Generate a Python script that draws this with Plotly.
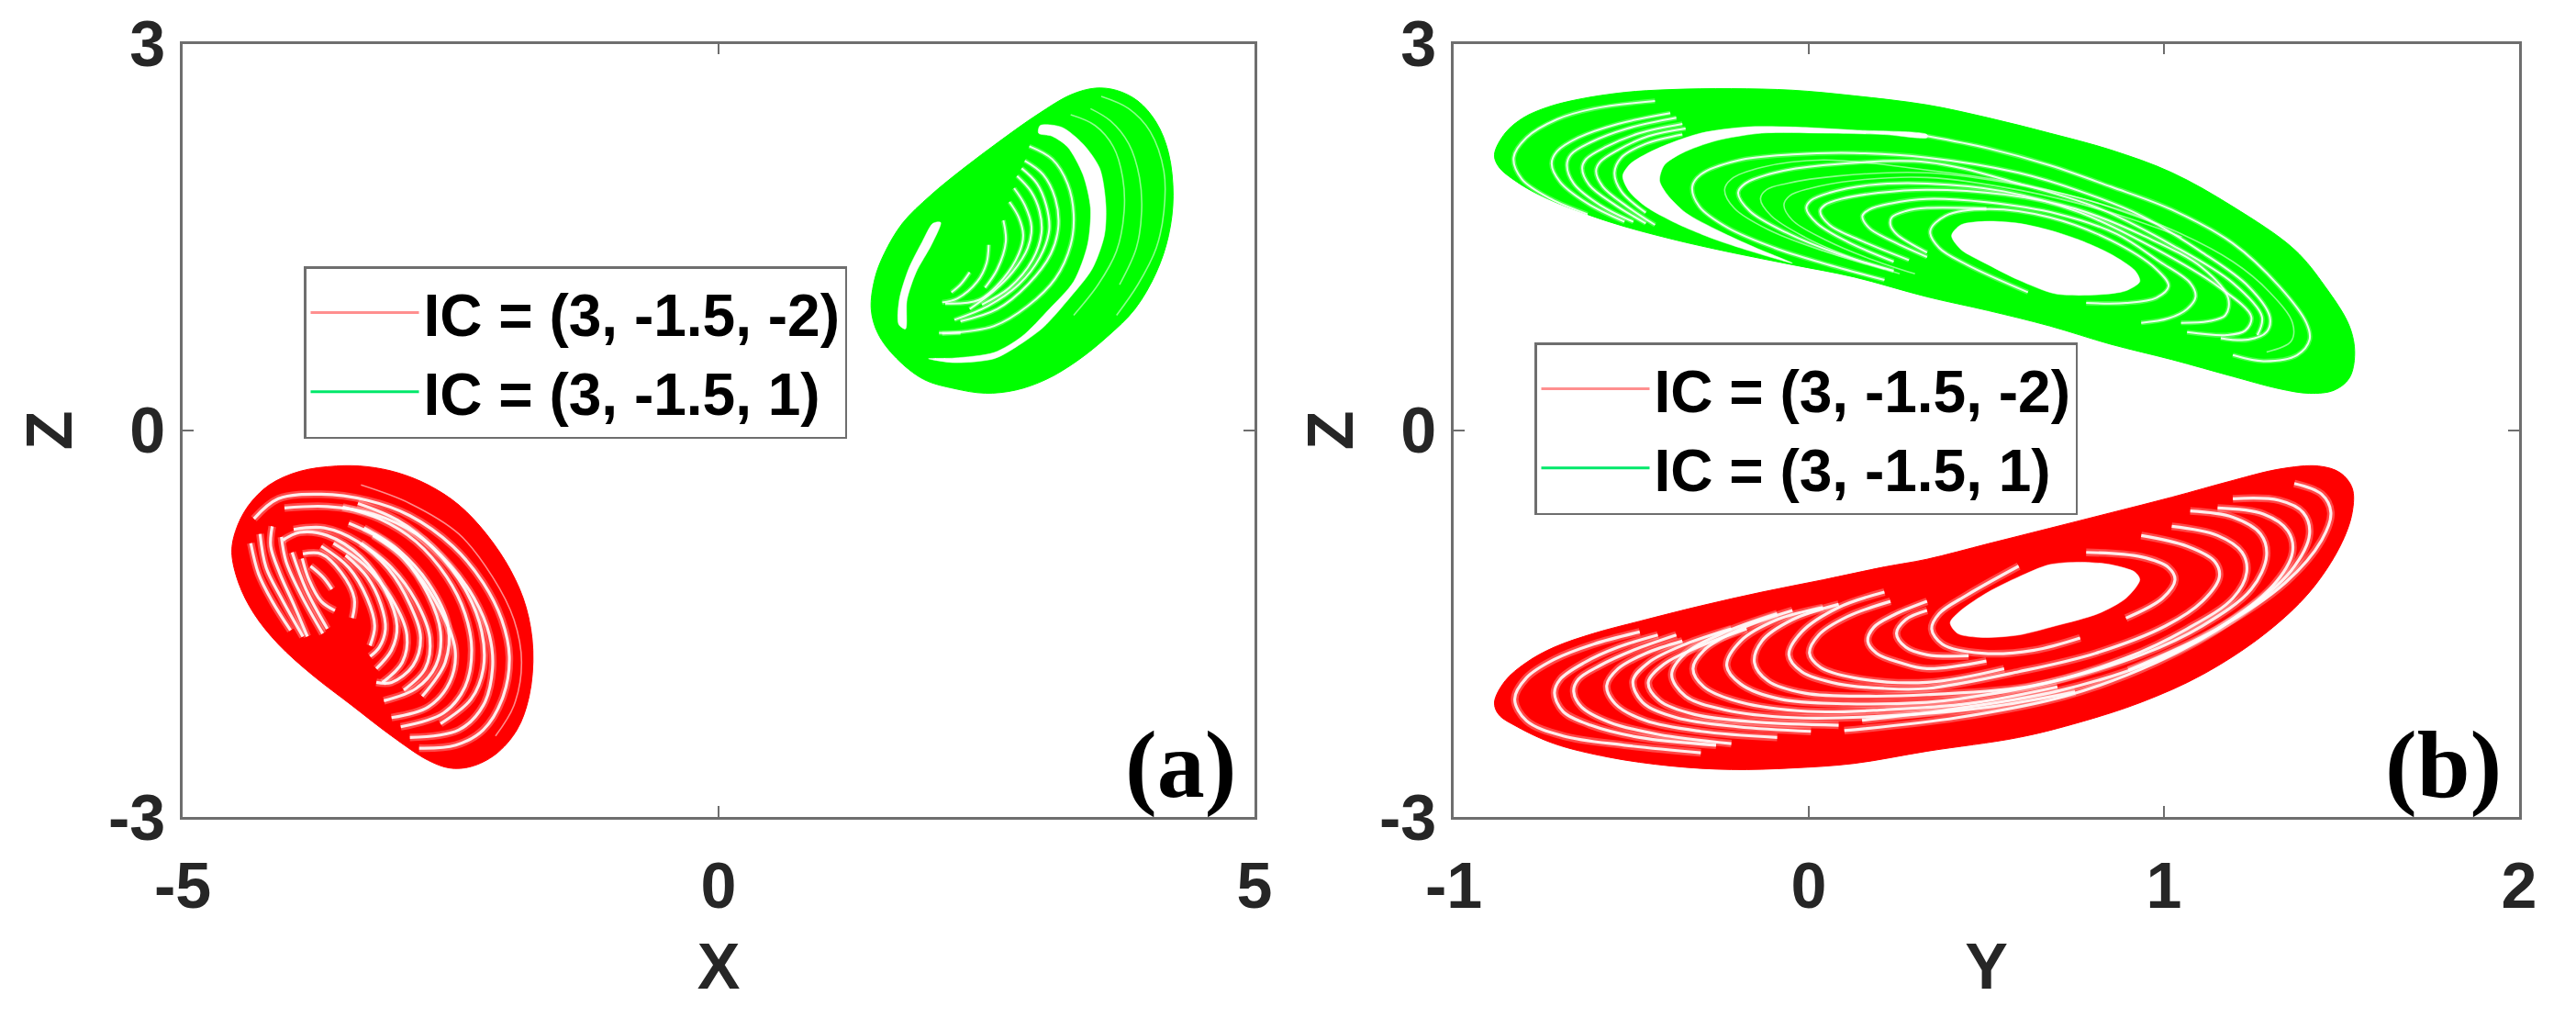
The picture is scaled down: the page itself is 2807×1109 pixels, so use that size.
import plotly.graph_objects as go

RED = "#ff0000"
GREEN = "#00ff00"
INK = "#262626"
FRAME = "#6e6e6e"
LEGEND_LABELS = ["IC = (3, -1.5, -2)", "IC = (3, -1.5, 1)"]
X_TICKS = [-5, 0, 5]
Y_TICKS = [-1, 0, 1, 2]
Z_TICKS = [-3, 0, 3]

# ---------- panel (a): X-Z ----------
green_a_outline = [(1.424,.941),(1.458,1.178),(1.544,1.368),(1.715,1.606),(1.972,1.819),(2.286,2.033),(2.628,2.247),(2.971,2.448),(3.285,2.603),(3.513,2.655),(3.713,2.638),(3.912,2.555),(4.084,2.389),(4.198,2.152),(4.241,1.819),(4.198,1.511),(4.084,1.226),(3.884,.941),(3.627,.727),(3.342,.537),(3.056,.395),(2.771,.312),(2.486,.288),(2.2,.324),(1.915,.395),(1.658,.561),(1.487,.751)]
green_a_holes = [
 [(3.0,2.365),(3.199,2.353),(3.399,2.223),(3.556,2.033),(3.613,1.748),(3.599,1.511),(3.484,1.25),(3.285,1.036),(3.028,.798),(2.771,.644),(2.571,.556),(2.2,.525),(1.958,.556),(2.2,.561),(2.571,.604),(2.828,.727),(3.085,.941),(3.313,1.155),(3.442,1.439),(3.47,1.724),(3.399,1.985),(3.256,2.199),(3.113,2.282),(2.985,2.306)],
 [(2.072,1.613),(1.986,1.439),(1.843,1.226),(1.758,1.012),(1.744,.787),(1.681,.822),(1.686,1.012),(1.772,1.25),(1.9,1.463),(2.0,1.606)],
]
green_a_faint = [
 [(3.57,2.591),(3.827,2.496),(4.027,2.318),(4.155,2.009),(4.155,1.701),(4.084,1.416),(3.912,1.131),(3.713,.893)],
 [(3.47,2.496),(3.656,2.401),(3.827,2.223),(3.927,1.962),(3.947,1.701),(3.898,1.416),(3.741,1.131)],
 [(3.285,2.448),(3.513,2.365),(3.684,2.199),(3.77,1.962),(3.784,1.701),(3.713,1.392),(3.541,1.131),(3.313,.893)],
]
green_a_gaps = [
 [(2.343,1.226),(2.257,1.131),(2.172,1.071)],
 [(2.899,2.204),(3.113,2.104),(3.256,1.914),(3.313,1.677),(3.285,1.439),(3.142,1.178),(2.885,.965),(2.571,.81),(2.086,.751)],
 [(2.857,2.092),(3.028,1.985),(3.142,1.796),(3.17,1.582),(3.099,1.368),(2.885,1.131),(2.6,.941),(2.257,.846)],
 [(2.828,2.033),(2.971,1.914),(3.056,1.748),(3.085,1.558),(2.999,1.344),(2.8,1.131),(2.514,.965),(2.2,.858)],
 [(2.785,1.974),(2.914,1.855),(2.994,1.701),(3.013,1.534),(2.928,1.321),(2.714,1.107),(2.457,.976)],
 [(2.757,1.879),(2.857,1.748),(2.919,1.582),(2.885,1.416),(2.742,1.226),(2.571,1.083),(2.343,.941)],
 [(2.714,1.772),(2.8,1.653),(2.842,1.511),(2.8,1.368),(2.657,1.178),(2.428,1.012),(2.115,.984)],
 [(2.52,1.439),(2.5,1.297),(2.414,1.155),(2.229,1.024),(2.086,.993)],
 [(2.657,1.629),(2.68,1.463),(2.6,1.25),(2.486,1.107)],
 [(2.057,.756),(2.257,.756)],
]
red_a_outline = [(-4.541,-.947),(-4.506,-.781),(-4.392,-.591),(-4.192,-.424),(-3.907,-.318),(-3.565,-.277),(-3.279,-.282),(-2.994,-.329),(-2.708,-.424),(-2.423,-.579),(-2.166,-.804),(-1.938,-1.089),(-1.795,-1.374),(-1.732,-1.706),(-1.767,-2.063),(-1.881,-2.324),(-2.081,-2.514),(-2.309,-2.609),(-2.509,-2.62),(-2.708,-2.561),(-3.051,-2.371),(-3.422,-2.134),(-3.793,-1.896),(-4.107,-1.659),(-4.335,-1.422),(-4.478,-1.184)]
red_a_holes = []
red_a_faint = [
 [(-3.336,-.424),(-2.88,-.567),(-2.423,-.804),(-2.109,-1.137),(-1.909,-1.469),(-1.838,-1.801),(-1.909,-2.134),(-2.081,-2.371)],
]
red_a_gaps = [
 [(-3.807,-1.054),(-3.693,-1.137),(-3.607,-1.232)],
 [(-4.335,-.686),(-4.107,-.531),(-3.707,-.496),(-3.279,-.543),(-2.88,-.662),(-2.48,-.899),(-2.195,-1.184),(-2.023,-1.469),(-1.952,-1.754),(-2.009,-2.063),(-2.195,-2.324),(-2.452,-2.443),(-2.794,-2.466)],
 [(-4.05,-.602),(-3.65,-.591),(-3.222,-.65),(-2.822,-.804),(-2.509,-1.042),(-2.28,-1.303),(-2.138,-1.588),(-2.109,-1.849),(-2.195,-2.134),(-2.423,-2.324),(-2.88,-2.383)],
 [(-3.507,-.595),(-3.165,-.686),(-2.822,-.864),(-2.537,-1.137),(-2.366,-1.422),(-2.303,-1.706),(-2.366,-1.991),(-2.566,-2.193),(-2.965,-2.3)],
 [(-3.45,-.721),(-3.108,-.864),(-2.822,-1.101),(-2.594,-1.398),(-2.457,-1.706),(-2.509,-1.956),(-2.708,-2.146),(-3.051,-2.229)],
 [(-3.222,-.816),(-2.937,-.994),(-2.708,-1.279),(-2.594,-1.564),(-2.637,-1.825),(-2.822,-2.003),(-3.122,-2.098)],
 [(-3.964,-.769),(-3.679,-.757),(-3.365,-.864),(-3.079,-1.077),(-2.88,-1.35),(-2.78,-1.611),(-2.851,-1.825),(-3.051,-1.956),(-3.193,-1.956)],
 [(-4.064,-.852),(-3.907,-.792),(-3.65,-.816),(-3.336,-.982),(-3.108,-1.244),(-3.0,-1.517),(-3.051,-1.706),(-3.193,-1.849)],
 [(-3.479,-.97),(-3.279,-1.137),(-3.151,-1.35),(-3.108,-1.54),(-3.165,-1.683),(-3.251,-1.754)],
 [(-3.878,-.959),(-3.707,-.959),(-3.522,-1.101),(-3.399,-1.303),(-3.416,-1.457)],
 [(-3.884,-.994),(-3.821,-1.16),(-3.707,-1.327),(-3.579,-1.398)],
 [(-4.364,-.876),(-4.292,-1.113),(-4.164,-1.327),(-3.993,-1.552)],
 [(-4.278,-.804),(-4.221,-1.065),(-4.078,-1.303),(-3.878,-1.6)],
 [(-4.164,-.745),(-4.178,-.899),(-4.092,-1.113),(-3.964,-1.35),(-3.836,-1.6)],
 [(-4.078,-.828),(-4.035,-1.018),(-3.893,-1.279),(-3.693,-1.576)],
 [(-3.978,-.947),(-3.85,-1.232),(-3.65,-1.54)],
 [(-3.365,-.567),(-2.994,-.697),(-2.651,-.923),(-2.366,-1.232),(-2.209,-1.564),(-2.195,-1.849),(-2.309,-2.086),(-2.594,-2.276)],
 [(-3.308,-.757),(-2.994,-.923),(-2.708,-1.184),(-2.523,-1.517),(-2.551,-1.801),(-2.765,-2.063)],
 [(-3.336,-.876),(-3.051,-1.065),(-2.822,-1.327),(-2.694,-1.611),(-2.737,-1.849),(-2.937,-2.015)],
 [(-3.593,-.876),(-3.308,-1.042),(-3.051,-1.303),(-2.908,-1.588),(-2.951,-1.801),(-3.136,-1.956)],
 [(-3.707,-.899),(-3.45,-1.065),(-3.279,-1.303),(-3.208,-1.517),(-3.251,-1.671)],
]

# ---------- panel (b): Y-Z ----------
green_b_outline = [(-.885,2.14),(-.855,2.306),(-.804,2.425),(-.735,2.508),(-.649,2.568),(-.519,2.622),(-.39,2.644),(-.218,2.651),(-.046,2.639),(.127,2.596),(.333,2.525),(.505,2.425),(.678,2.306),(.85,2.176),(1.022,2.0),(1.194,1.736),(1.367,1.404),(1.453,1.119),(1.522,.81),(1.537,.596),(1.522,.406),(1.479,.311),(1.41,.287),(1.324,.323),(1.194,.418),(1.022,.549),(.85,.668),(.678,.81),(.505,.929),(.333,1.036),(.127,1.19),(-.046,1.285),(-.218,1.38),(-.39,1.487),(-.562,1.618),(-.735,1.796),(-.821,1.926),(-.873,2.045)]
green_b_holes = [
 [(.333,2.295),(.127,2.33),(-.046,2.354),(-.175,2.354),(-.304,2.306),(-.425,2.188),(-.502,2.069),(-.524,1.974),(-.506,1.855),(-.459,1.736),(-.373,1.606),(-.27,1.487),(-.166,1.392),(-.046,1.297),(-.149,1.416),(-.252,1.546),(-.347,1.689),(-.399,1.831),(-.42,1.938),(-.407,2.057),(-.356,2.152),(-.261,2.247),(-.132,2.306),(.04,2.306),(.213,2.295),(.333,2.271)],
 [(.402,1.511),(.428,1.594),(.505,1.622),(.591,1.606),(.678,1.553),(.764,1.475),(.85,1.368),(.919,1.238),(.932,1.154),(.893,1.083),(.815,1.052),(.695,1.059),(.591,1.166),(.505,1.285),(.428,1.404)],
]
green_b_faint = [
 [(1.289,.608),(1.358,.691),(1.362,.834),(1.298,1.071),(1.194,1.309),(1.02,1.56),(.82,1.76),(.6,1.9),(.333,1.998),(.084,1.974),(-.063,1.915),(-.119,1.867),(-.136,1.796),(-.106,1.665),(-.011,1.499),(.127,1.333),(.256,1.214)],
 [(.98,1.6),(.78,1.79),(.56,1.93),(.333,2.02),(.04,2.098),(-.132,2.041),(-.218,1.95),(-.237,1.867),(-.21,1.724),(-.115,1.558),(.04,1.392),(.213,1.25)],
 [(1.05,1.5),(.85,1.69),(.6,1.86),(.333,1.962),(.127,1.938),(.006,1.879),(-.054,1.82),(-.07,1.748),(-.046,1.63),(.049,1.475),(.17,1.333),(.299,1.214)],
]
green_b_gaps = [
 [(.333,2.283),(.505,2.188),(.678,2.057),(.85,1.891),(1.022,1.712),(1.194,1.451),(1.324,1.119),(1.401,.834),(1.41,.703),(1.375,.584),(1.28,.537),(1.194,.584)],
 [(-.433,2.556),(-.606,2.496),(-.709,2.413),(-.795,2.271),(-.831,2.116),(-.808,1.95),(-.726,1.796),(-.623,1.677)],
 [(-.39,2.461),(-.537,2.378),(-.649,2.271),(-.709,2.164),(-.724,2.069),(-.7,1.926),(-.623,1.76),(-.519,1.618)],
 [(-.373,2.425),(-.511,2.342),(-.614,2.235),(-.67,2.14),(-.681,2.057),(-.662,1.915),(-.588,1.748),(-.494,1.618)],
 [(-.356,2.378),(-.476,2.306),(-.571,2.2),(-.627,2.105),(-.638,2.033),(-.618,1.903),(-.545,1.748),(-.459,1.606)],
 [(-.347,2.342),(-.451,2.283),(-.537,2.176),(-.588,2.081),(-.599,2.01),(-.58,1.891),(-.511,1.736),(-.433,1.594)],
 [(-.356,2.295),(-.459,2.223),(-.528,2.116),(-.547,1.998),(-.528,1.855),(-.459,1.689)],
 [(1.16,.715),(1.237,.703),(1.289,.763),(1.298,.881),(1.237,1.119),(1.108,1.38),(.936,1.665),(.764,1.855),(.591,1.998),(.333,2.116),(.127,2.152),(-.046,2.14),(-.201,2.093),(-.304,1.986),(-.328,1.891),(-.308,1.736),(-.227,1.57),(-.097,1.416),(.04,1.297),(.213,1.166)],
 [(1.065,.762),(1.177,.739),(1.229,.774),(1.246,.881),(1.151,1.119),(.979,1.404),(.764,1.689),(.548,1.855),(.333,1.915),(.17,1.903),(.058,1.843),(.006,1.784),(-.007,1.724),(.023,1.606),(.109,1.463),(.239,1.309)],
 [(1.263,.739),(1.276,.881),(1.194,1.143),(1.022,1.439),(.815,1.725),(.591,1.915),(.333,2.081),(.04,2.057),(-.097,1.998),(-.179,1.915),(-.199,1.843),(-.166,1.701),(-.063,1.534),(.084,1.368),(.239,1.238)],
 [(.781,.988),(.893,.988),(.979,1.029),(1.013,1.119),(.979,1.249),(.85,1.475),(.678,1.653),(.505,1.717),(.385,1.665),(.342,1.546),(.367,1.416),(.445,1.285),(.617,1.071)],
 [(.936,.834),(1.013,.869),(1.065,.941),(1.089,1.036),(1.074,1.143),(.988,1.309),(.867,1.523),(.7,1.68),(.5,1.77),(.333,1.796),(.23,1.76),(.17,1.713),(.151,1.665),(.17,1.57),(.239,1.463),(.333,1.345)],
 [(1.048,.834),(1.125,.846),(1.173,.893),(1.181,1.024),(1.108,1.261),(.95,1.5),(.75,1.72),(.55,1.83),(.333,1.867),(.196,1.843),(.092,1.796),(.045,1.748),(.032,1.701),(.058,1.594),(.144,1.475),(.282,1.321)],
 [(.5,1.72),(.333,1.725),(.273,1.701),(.234,1.653),(.23,1.594),(.247,1.523),(.333,1.38)],
]
red_b_outline = [(-.885,-2.11),(-.855,-1.944),(-.795,-1.801),(-.717,-1.683),(-.606,-1.576),(-.476,-1.481),(-.304,-1.362),(-.132,-1.255),(.04,-1.16),(.213,-1.06),(.333,-1.0),(.505,-.88),(.678,-.76),(.85,-.64),(1.022,-.519),(1.194,-.389),(1.324,-.301),(1.435,-.277),(1.496,-.329),(1.53,-.448),(1.53,-.638),(1.496,-.899),(1.41,-1.255),(1.28,-1.588),(1.108,-1.896),(.936,-2.11),(.764,-2.264),(.591,-2.383),(.333,-2.49),(.127,-2.585),(-.046,-2.62),(-.218,-2.632),(-.39,-2.604),(-.562,-2.537),(-.717,-2.431),(-.821,-2.3),(-.873,-2.205)]
red_b_holes = [
 [(.398,-1.493),(.428,-1.398),(.505,-1.255),(.591,-1.137),(.678,-1.042),(.764,-1.023),(.85,-1.042),(.919,-1.101),(.932,-1.16),(.893,-1.303),(.815,-1.422),(.695,-1.517),(.591,-1.588),(.488,-1.607),(.419,-1.576)],
]
red_b_faint = []
red_b_gaps = [
 [(-.476,-1.564),(-.606,-1.659),(-.717,-1.778),(-.795,-1.92),(-.828,-2.086),(-.795,-2.253),(-.692,-2.371),(-.519,-2.443),(-.304,-2.502)],
 [(-.425,-1.588),(-.537,-1.683),(-.631,-1.801),(-.7,-1.932),(-.716,-2.039),(-.692,-2.181),(-.614,-2.288),(-.476,-2.383),(-.261,-2.443)],
 [(-.373,-1.588),(-.494,-1.706),(-.588,-1.825),(-.649,-1.932),(-.662,-2.027),(-.64,-2.146),(-.562,-2.264),(-.425,-2.359),(-.218,-2.431)],
 [(-.356,-1.635),(-.459,-1.73),(-.537,-1.849),(-.569,-1.98),(-.545,-2.122),(-.459,-2.253),(-.304,-2.336),(-.089,-2.383)],
 [(-.218,-1.54),(-.347,-1.659),(-.451,-1.801),(-.495,-1.944),(-.468,-2.11),(-.373,-2.229),(-.2,-2.3),(.006,-2.336)],
 [(-.175,-1.54),(-.313,-1.683),(-.407,-1.813),(-.452,-1.956),(-.42,-2.098),(-.321,-2.205),(-.149,-2.264),(.084,-2.288)],
 [(-.089,-1.422),(-.235,-1.564),(-.347,-1.73),(-.386,-1.896),(-.347,-2.063),(-.235,-2.17),(-.046,-2.229),(.213,-2.217),(.5,-2.15),(.75,-2.03)],
 [(-.046,-1.398),(-.192,-1.54),(-.295,-1.706),(-.326,-1.849),(-.295,-1.991),(-.192,-2.11),(-.003,-2.181),(.213,-2.169),(.45,-2.12),(.7,-1.99)],
 [(.04,-1.374),(-.089,-1.469),(-.192,-1.635),(-.231,-1.825),(-.192,-1.968),(-.08,-2.086),(.109,-2.122),(.333,-2.11),(.419,-2.086),(.678,-1.956),(.936,-1.742),(1.108,-1.517),(1.246,-1.232),(1.289,-.971),(1.272,-.804),(1.194,-.674),(1.074,-.626)],
 [(.084,-1.35),(-.046,-1.469),(-.132,-1.635),(-.153,-1.801),(-.115,-1.944),(-.011,-2.039),(.17,-2.063),(.333,-2.051),(.634,-1.98),(.893,-1.766),(1.065,-1.54),(1.194,-1.303),(1.233,-1.101),(1.22,-.947),(1.151,-.816),(1.022,-.745)],
 [(.213,-1.255),(.084,-1.374),(-.02,-1.564),(-.056,-1.742),(-.02,-1.873),(.084,-1.968),(.213,-2.003),(.333,-2.003),(.591,-1.873),(.807,-1.73),(1.005,-1.517),(1.108,-1.327),(1.156,-1.137),(1.143,-1.018),(1.065,-.899),(.936,-.816)],
 [(.23,-1.327),(.109,-1.445),(.028,-1.588),(.002,-1.73),(.032,-1.837),(.127,-1.92),(.333,-1.956),(.55,-1.85)],
 [(.333,-1.327),(.239,-1.433),(.183,-1.528),(.166,-1.635),(.191,-1.73),(.256,-1.801),(.333,-1.849),(.5,-1.79)],
 [(.333,-1.398),(.273,-1.469),(.247,-1.576),(.273,-1.683),(.333,-1.742),(.45,-1.75)],
 [(.591,-1.054),(.445,-1.279),(.367,-1.422),(.346,-1.54),(.376,-1.659),(.488,-1.73),(.634,-1.706),(.764,-1.611)],
 [(.781,-.947),(.936,-.982),(1.013,-1.065),(1.031,-1.16),(.996,-1.303),(.893,-1.457)],
 [(1.194,-.531),(1.324,-.543),(1.392,-.638),(1.41,-.804),(1.358,-1.089),(1.194,-1.469),(.979,-1.801),(.721,-2.063),(.419,-2.229),(.1,-2.33)],
 [(1.367,-.413),(1.444,-.496),(1.47,-.638),(1.444,-.852),(1.341,-1.184),(1.15,-1.54),(.9,-1.86)],
 [(1.151,-.603),(1.28,-.65),(1.349,-.781),(1.362,-.947),(1.306,-1.208),(1.151,-1.54),(.962,-1.801),(.695,-2.027),(.419,-2.158),(.15,-2.25)],
]

W, H = 2807, 1109
fig = go.Figure()


def add_line(pts, xa, ya, color, width):
    fig.add_trace(go.Scatter(x=[p[0] for p in pts], y=[p[1] for p in pts], xaxis=xa, yaxis=ya,
                             mode="lines", line=dict(color=color, width=width, shape="spline"),
                             showlegend=False, hoverinfo="skip"))


def add_blob(color, outline, holes, faint, gaps, xa, ya, gap_width):
    pts = outline + outline[:1]
    fig.add_trace(go.Scatter(x=[p[0] for p in pts], y=[p[1] for p in pts], xaxis=xa, yaxis=ya,
                             mode="lines", fill="toself", fillcolor=color,
                             line=dict(color=color, width=1, shape="spline", smoothing=1.0),
                             showlegend=False, hoverinfo="skip"))
    for h in holes:
        pts = h + h[:1]
        fig.add_trace(go.Scatter(x=[p[0] for p in pts], y=[p[1] for p in pts], xaxis=xa, yaxis=ya,
                                 mode="lines", fill="toself", fillcolor="white",
                                 line=dict(color="white", width=0.5, shape="spline", smoothing=0.8),
                                 showlegend=False, hoverinfo="skip"))
    for g in faint:
        add_line(g, xa, ya, "rgba(255,255,255,0.55)", 1.6)
    for g in gaps:
        add_line(g, xa, ya, "rgba(255,255,255,0.28)", gap_width * 2.6)
        add_line(g, xa, ya, "rgba(255,255,255,0.9)", gap_width)


add_blob(RED, red_a_outline, red_a_holes, red_a_faint, red_a_gaps, "x", "y", 3.2)
add_blob(GREEN, green_a_outline, green_a_holes, green_a_faint, green_a_gaps, "x", "y", 2.0)
add_blob(RED, red_b_outline, red_b_holes, red_b_faint, red_b_gaps, "x2", "y2", 3.2)
add_blob(GREEN, green_b_outline, green_b_holes, green_b_faint, green_b_gaps, "x2", "y2", 2.0)

for legend, xa, ya in (("legend", "x", "y"), ("legend2", "x2", "y2")):
    for name, col in zip(LEGEND_LABELS, ("#ff8f8f", "#00e86a")):
        fig.add_trace(go.Scatter(x=[None], y=[None], xaxis=xa, yaxis=ya, mode="lines", name=name,
                                 line=dict(color=col, width=3), legend=legend))

axis = dict(showgrid=False, zeroline=False, showline=True, linecolor=FRAME, linewidth=2.5, mirror="ticks",
            ticks="inside", ticklen=12, tickwidth=2, tickcolor=FRAME, automargin=False,
            tickfont=dict(family="Liberation Sans", size=70, color=INK, weight="bold"))


def ax(**kw):
    d = dict(axis)
    d.update(kw)
    return d


ttl = dict(family="Liberation Sans", size=70, color=INK, weight="bold")
fig.update_layout(
    width=W, height=H, autosize=False, paper_bgcolor="white", plot_bgcolor="white",
    margin=dict(l=0, r=0, t=0, b=0, autoexpand=False),
    xaxis=ax(domain=[199/W, 1367/W], range=[-5, 5], anchor="y", tickvals=X_TICKS, ticktext=[str(v) for v in X_TICKS],
             ticklabelstandoff=12, title=dict(text="X", font=ttl, standoff=26)),
    yaxis=ax(domain=[1-890/H, 1-47.6/H], range=[-3, 3], anchor="x", tickvals=Z_TICKS, ticktext=[str(v) for v in Z_TICKS],
             ticklabelstandoff=2, title=dict(text="Z", font=ttl, standoff=17)),
    xaxis2=ax(domain=[1584/W, 2745/W], range=[-1, 2], anchor="y2", tickvals=Y_TICKS, ticktext=[str(v) for v in Y_TICKS],
              ticklabelstandoff=12, title=dict(text="Y", font=ttl, standoff=26)),
    yaxis2=ax(domain=[1-890/H, 1-47.6/H], range=[-3, 3], anchor="x2", tickvals=Z_TICKS, ticktext=[str(v) for v in Z_TICKS],
              ticklabelstandoff=2, title=dict(text="Z", font=ttl, standoff=6)),
    legend=dict(x=331/W, y=1-290/H, xanchor="left", yanchor="top", bgcolor="white", bordercolor=FRAME, borderwidth=2.5,
                itemwidth=118, tracegroupgap=0, font=dict(family="Liberation Sans", size=64, color="black", weight="bold")),
    legend2=dict(x=1672/W, y=1-373/H, xanchor="left", yanchor="top", bgcolor="white", bordercolor=FRAME, borderwidth=2.5,
                 itemwidth=118, tracegroupgap=0, font=dict(family="Liberation Sans", size=64, color="black", weight="bold")),
    annotations=[
        dict(text="<b>(a)</b>", xref="paper", yref="paper", x=1286/W, y=1-833/H, xanchor="center", yanchor="middle",
             showarrow=False, font=dict(family="Liberation Serif", size=104, color="black")),
        dict(text="<b>(b)</b>", xref="paper", yref="paper", x=2662/W, y=1-833/H, xanchor="center", yanchor="middle",
             showarrow=False, font=dict(family="Liberation Serif", size=104, color="black")),
    ],
)
fig.write_html("out.html", config=dict(displayModeBar=False),
               post_script="document.body.style.margin='0';document.body.style.overflow='hidden';")
